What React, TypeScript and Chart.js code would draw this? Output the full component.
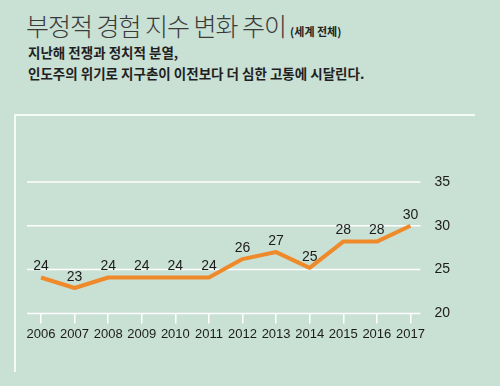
import React, { useEffect, useRef } from "react";
import { Chart, registerables } from "chart.js";

Chart.register(...registerables);

const years = ["2006", "2007", "2008", "2009", "2010", "2011", "2012", "2013", "2014", "2015", "2016", "2017"];
const values = [24.1, 22.9, 24.1, 24.1, 24.1, 24.1, 26.2, 27, 25.2, 28.2, 28.2, 30];
const valueLabels = ["24", "23", "24", "24", "24", "24", "26", "27", "25", "28", "28", "30"];
const yTicks = [20, 25, 30, 35];

const titleText = "부정적 경험 지수 변화 추이";
const titleNote = "(세계 전체)";
const subtitleLines = ["지난해 전쟁과 정치적 분열,", "인도주의 위기로 지구촌이 이전보다 더 심한 고통에 시달린다."];

const BG = "#c9e0d4";
const ORANGE = "#ef8a2a";
const NUM_FONT = "'Liberation Sans', Arial, sans-serif";
const KR_FONT = "'Noto Sans CJK KR', 'Noto Sans', sans-serif";

const gridPlugin = {
  id: "extGrid",
  beforeDatasetsDraw(chart: any) {
    const ctx = chart.ctx;
    const y = chart.scales.y;
    const { left, right } = chart.chartArea;
    ctx.save();
    ctx.strokeStyle = "#ffffff";
    ctx.lineWidth = 1.5;
    yTicks.forEach((v) => {
      const py = y.getPixelForValue(v);
      ctx.beginPath();
      ctx.moveTo(left - 14, py);
      ctx.lineTo(right + 10, py);
      ctx.stroke();
    });
    ctx.restore();
  },
};

const labelPlugin = {
  id: "valueLabels",
  afterDatasetsDraw(chart: any) {
    const ctx = chart.ctx;
    const meta = chart.getDatasetMeta(0);
    ctx.save();
    ctx.font = `14px ${NUM_FONT}`;
    ctx.fillStyle = "#1c1c1c";
    ctx.textAlign = "center";
    ctx.textBaseline = "middle";
    meta.data.forEach((pt: any, i: number) => {
      ctx.fillText(valueLabels[i], pt.x, pt.y - 11);
    });
    ctx.restore();
  },
};

export default function App() {
  const ref = useRef<HTMLCanvasElement>(null);

  useEffect(() => {
    if (!ref.current) return;
    const chart = new Chart(ref.current, {
      type: "line",
      data: {
        labels: years,
        datasets: [
          {
            data: values,
            borderColor: ORANGE,
            borderWidth: 4,
            pointRadius: 0,
            tension: 0,
            fill: false,
            borderJoinStyle: "round",
          },
        ],
      },
      options: {
        animation: false,
        responsive: false,
        devicePixelRatio: 1,
        layout: { padding: { left: 41, right: 34, top: 182, bottom: 41 } },
        plugins: { legend: { display: false }, tooltip: { enabled: false } },
        scales: {
          x: {
            offset: false,
            grid: { display: true, drawOnChartArea: false, drawTicks: true, tickLength: 10, color: "#ffffff", lineWidth: 1.5 },
            border: { display: false },
            ticks: { padding: 3, color: "#1c1c1c", font: { size: 13, family: NUM_FONT }, maxRotation: 0, autoSkip: false },
          },
          y: {
            position: "right",
            min: 20,
            max: 35,
            grid: { display: false },
            border: { display: false },
            ticks: { stepSize: 5, padding: 16, color: "#1c1c1c", font: { size: 14, family: NUM_FONT } },
          },
        },
      },
      plugins: [gridPlugin, labelPlugin],
    });
    return () => chart.destroy();
  }, []);

  return (
    <div style={{ position: "fixed", left: 0, top: 0, width: 500, height: 386, background: BG, overflow: "hidden" }}>
      <div style={{ position: "absolute", left: 26, top: 7, fontFamily: KR_FONT, color: "#3a3a3a", whiteSpace: "nowrap", lineHeight: "36px" }}>
        <span style={{ fontSize: 25, fontWeight: 300, letterSpacing: -1 }}>{titleText}</span>
        <span style={{ fontSize: 11, fontWeight: 700, marginLeft: 4, color: "#222" }}>{titleNote}</span>
      </div>
      <div style={{ position: "absolute", left: 28, top: 42, fontFamily: KR_FONT, fontSize: 13.5, fontWeight: 700, color: "#1f1f1f", lineHeight: "21px", whiteSpace: "nowrap" }}>
        {subtitleLines.map((l, i) => (
          <div key={i}>{l}</div>
        ))}
      </div>
      <div style={{ position: "absolute", left: 14, top: 114, width: 461, height: 1.5, background: "#f4faf6" }} />
      <div style={{ position: "absolute", left: 14, top: 114, width: 1.5, height: 258, background: "#f4faf6" }} />
      <canvas ref={ref} width={500} height={386} style={{ position: "absolute", left: 0, top: 0, display: "block" }} />
    </div>
  );
}
